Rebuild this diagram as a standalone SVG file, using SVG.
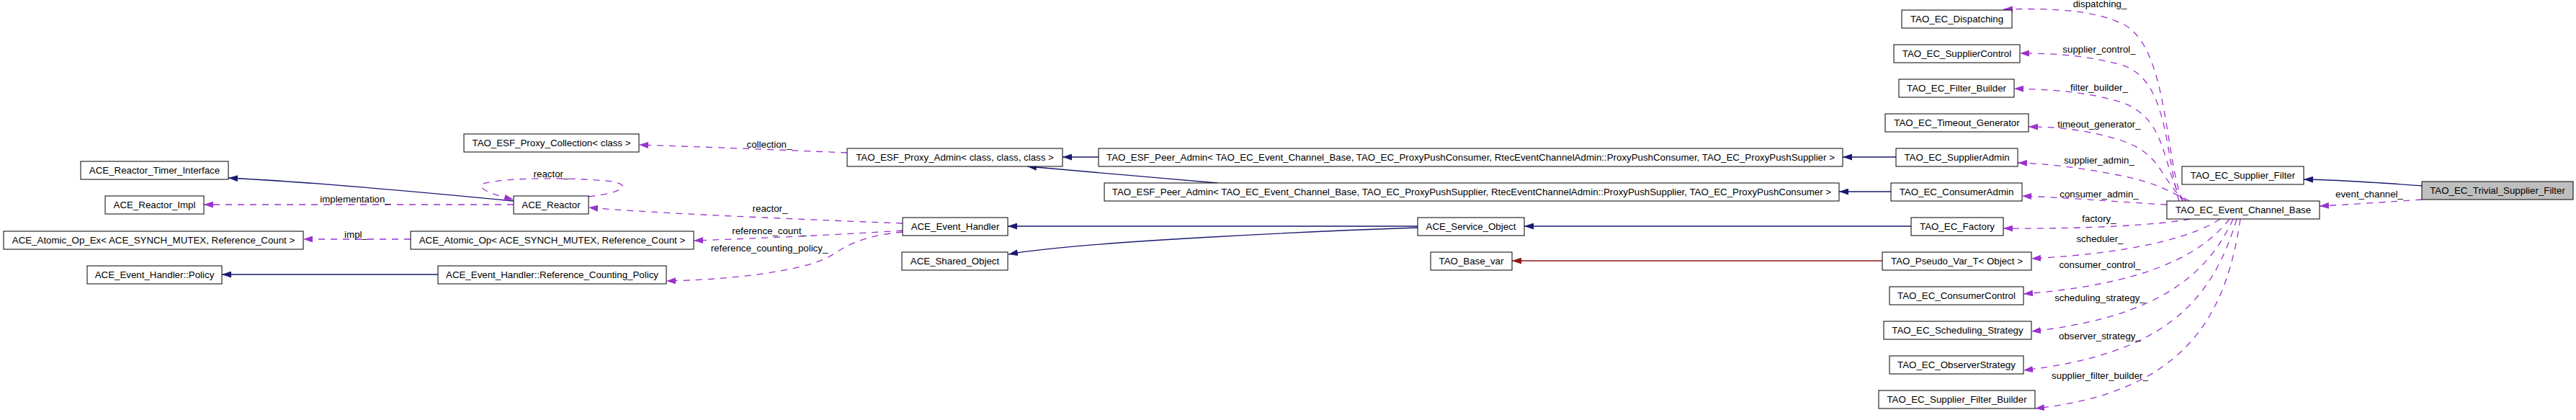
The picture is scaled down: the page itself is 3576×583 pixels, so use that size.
<svg xmlns="http://www.w3.org/2000/svg" width="3576" height="583" viewBox="0 0 3576 583">
<style>
.nb{fill:#ffffff;stroke:#000000;stroke-width:1}
.nt{font-family:"Liberation Sans",Arial,sans-serif;font-size:13.3px;fill:#000000;text-anchor:middle}
.lt{font-family:"Liberation Sans",Arial,sans-serif;font-size:13.3px;fill:#000000;text-anchor:middle}
.inh{fill:none;stroke:#191970;stroke-width:1.3;marker-end:url(#aBlue)}
.tpl{fill:none;stroke:#8b1a1a;stroke-width:1.3;marker-end:url(#aRed)}
.use{fill:none;stroke:#9a32cd;stroke-width:1.3;stroke-dasharray:9,8;marker-end:url(#aPurple)}
</style>
<defs>
<marker id="aBlue" markerUnits="userSpaceOnUse" markerWidth="13" markerHeight="9" viewBox="0 0 13 9" refX="13" refY="4.5" orient="auto"><path d="M0,0 L13,4.5 L0,9 Z" fill="#191970"/></marker>
<marker id="aRed" markerUnits="userSpaceOnUse" markerWidth="13" markerHeight="9" viewBox="0 0 13 9" refX="13" refY="4.5" orient="auto"><path d="M0,0 L13,4.5 L0,9 Z" fill="#8b1a1a"/></marker>
<marker id="aPurple" markerUnits="userSpaceOnUse" markerWidth="13" markerHeight="9" viewBox="0 0 13 9" refX="13" refY="4.5" orient="auto"><path d="M0,0 L13,4.5 L0,9 Z" fill="#9a32cd"/></marker>
</defs>
<rect x="0" y="0" width="3576" height="583" fill="#ffffff"/>
<g id="connectors">
<path class="inh" d="M3362,258 C3320,255 3260,250 3198,249"/>
<path class="inh" d="M2632,218 L2558,218"/>
<path class="inh" d="M2625,266 L2553,266"/>
<path class="inh" d="M2653,314 L2116,314"/>
<path class="tpl" d="M2613,362 L2099,362"/>
<path class="inh" d="M1525,218 L1475,218"/>
<path class="inh" d="M1690,254 C1600,246 1500,238 1426,231"/>
<path class="inh" d="M1968,314 L1399,314"/>
<path class="inh" d="M1968,316 C1850,320 1500,335 1400,353"/>
<path class="inh" d="M608,381 L308,381"/>
<path class="inh" d="M713,279 C600,268 420,252 317,247"/>
<path class="use" d="M3362,277 C3320,280 3260,284 3220,286"/>
<path class="use" d="M3030,279 C3005,220 3010,70 2950,35 C2910,14 2850,11 2781,13"/>
<path class="use" d="M3025,279 C3005,210 3010,110 2945,90 C2900,78 2860,74 2804,74"/>
<path class="use" d="M3030,279 C3000,230 3010,165 2945,142 C2900,128 2850,124 2796,123"/>
<path class="use" d="M3035,279 C3000,255 3005,215 2945,195 C2900,181 2860,176 2816,176"/>
<path class="use" d="M3040,279 C3010,265 2990,252 2940,243 C2890,233 2840,227 2801,226"/>
<path class="use" d="M3008,284 C2950,281 2880,275 2807,272"/>
<path class="use" d="M3040,304 C3000,312 2900,318 2781,317"/>
<path class="use" d="M3082,304 C3040,332 2950,352 2820,359"/>
<path class="use" d="M3095,304 C3050,362 2960,396 2809,408"/>
<path class="use" d="M3100,304 C3060,392 2980,442 2820,460"/>
<path class="use" d="M3105,304 C3070,422 3000,492 2809,514"/>
<path class="use" d="M3110,304 C3090,442 3030,545 2825,567"/>
<path class="use" d="M1176,212 C1080,208 980,204 887,201"/>
<path class="use" d="M817,273 C860,268 880,258 850,252 C800,246 700,246 670,255 C660,262 690,272 713,277"/>
<path class="use" d="M713,284 L283,284"/>
<path class="use" d="M1253,310 C1150,306 900,296 817,288"/>
<path class="use" d="M1253,320 C1150,327 1020,332 963,334"/>
<path class="use" d="M1253,322 C1190,328 1170,345 1150,357 C1110,378 1000,389 925,390"/>
<path class="use" d="M570,332 L421,332"/>
<text class="lt" x="1068" y="205">collection_</text>
<text class="lt" x="765" y="246">reactor_</text>
<text class="lt" x="493" y="281">implementation_</text>
<text class="lt" x="1069" y="294">reactor_</text>
<text class="lt" x="1068" y="325">reference_count_</text>
<text class="lt" x="1068" y="349">reference_counting_policy_</text>
<text class="lt" x="494" y="330">impl_</text>
<text class="lt" x="3289" y="274">event_channel_</text>
<text class="lt" x="2915" y="10">dispatching_</text>
<text class="lt" x="2914" y="73">supplier_control_</text>
<text class="lt" x="2914" y="126">filter_builder_</text>
<text class="lt" x="2914" y="177">timeout_generator_</text>
<text class="lt" x="2914" y="227">supplier_admin_</text>
<text class="lt" x="2914" y="274">consumer_admin_</text>
<text class="lt" x="2914" y="308">factory_</text>
<text class="lt" x="2915" y="336">scheduler_</text>
<text class="lt" x="2915" y="372">consumer_control_</text>
<text class="lt" x="2915" y="418">scheduling_strategy_</text>
<text class="lt" x="2915" y="471">observer_strategy_</text>
<text class="lt" x="2915" y="526">supplier_filter_builder_</text>
</g>
<g id="n_trivial"><rect x="3362" y="252" width="210" height="25" fill="#bfbfbf" stroke="#000000"/><text class="nt" x="3467" y="269">TAO_EC_Trivial_Supplier_Filter</text></g>
<g id="n_sfilter"><rect class="nb" x="3029" y="231" width="169" height="25"/><text class="nt" x="3113.5" y="248">TAO_EC_Supplier_Filter</text></g>
<g id="n_ecb"><rect class="nb" x="3008" y="279" width="212" height="25"/><text class="nt" x="3114" y="296">TAO_EC_Event_Channel_Base</text></g>
<g id="n_dispatching"><rect class="nb" x="2640" y="14" width="153" height="25"/><text class="nt" x="2716.5" y="31">TAO_EC_Dispatching</text></g>
<g id="n_supctrl"><rect class="nb" x="2629" y="62" width="175" height="25"/><text class="nt" x="2716.5" y="79">TAO_EC_SupplierControl</text></g>
<g id="n_filterb"><rect class="nb" x="2636" y="110" width="160" height="25"/><text class="nt" x="2716" y="127">TAO_EC_Filter_Builder</text></g>
<g id="n_timeout"><rect class="nb" x="2617" y="158" width="199" height="25"/><text class="nt" x="2716.5" y="175">TAO_EC_Timeout_Generator</text></g>
<g id="n_supadmin"><rect class="nb" x="2632" y="206" width="169" height="25"/><text class="nt" x="2716.5" y="223">TAO_EC_SupplierAdmin</text></g>
<g id="n_conadmin"><rect class="nb" x="2625" y="254" width="182" height="25"/><text class="nt" x="2716" y="271">TAO_EC_ConsumerAdmin</text></g>
<g id="n_factory"><rect class="nb" x="2653" y="302" width="128" height="25"/><text class="nt" x="2717" y="319">TAO_EC_Factory</text></g>
<g id="n_pseudo"><rect class="nb" x="2613" y="350" width="207" height="25"/><text class="nt" x="2716.5" y="367">TAO_Pseudo_Var_T&lt; Object &gt;</text></g>
<g id="n_conctrl"><rect class="nb" x="2623" y="398" width="186" height="25"/><text class="nt" x="2716" y="415">TAO_EC_ConsumerControl</text></g>
<g id="n_sched"><rect class="nb" x="2615" y="446" width="205" height="25"/><text class="nt" x="2717.5" y="463">TAO_EC_Scheduling_Strategy</text></g>
<g id="n_observer"><rect class="nb" x="2623" y="494" width="186" height="25"/><text class="nt" x="2716" y="511">TAO_EC_ObserverStrategy</text></g>
<g id="n_sfb"><rect class="nb" x="2608" y="542" width="217" height="25"/><text class="nt" x="2716.5" y="559">TAO_EC_Supplier_Filter_Builder</text></g>
<g id="n_peer1"><rect class="nb" x="1525" y="206" width="1033" height="25"/><text class="nt" x="2041.5" y="223">TAO_ESF_Peer_Admin&lt; TAO_EC_Event_Channel_Base, TAO_EC_ProxyPushConsumer, RtecEventChannelAdmin::ProxyPushConsumer, TAO_EC_ProxyPushSupplier &gt;</text></g>
<g id="n_peer2"><rect class="nb" x="1533" y="254" width="1020" height="25"/><text class="nt" x="2043" y="271">TAO_ESF_Peer_Admin&lt; TAO_EC_Event_Channel_Base, TAO_EC_ProxyPushSupplier, RtecEventChannelAdmin::ProxyPushSupplier, TAO_EC_ProxyPushConsumer &gt;</text></g>
<g id="n_svcobj"><rect class="nb" x="1968" y="302" width="148" height="25"/><text class="nt" x="2042" y="319">ACE_Service_Object</text></g>
<g id="n_basevar"><rect class="nb" x="1986" y="350" width="113" height="25"/><text class="nt" x="2042.5" y="367">TAO_Base_var</text></g>
<g id="n_proxyadmin"><rect class="nb" x="1176" y="206" width="299" height="25"/><text class="nt" x="1325.5" y="223">TAO_ESF_Proxy_Admin&lt; class, class, class &gt;</text></g>
<g id="n_evh"><rect class="nb" x="1253" y="302" width="146" height="25"/><text class="nt" x="1326" y="319">ACE_Event_Handler</text></g>
<g id="n_shared"><rect class="nb" x="1252" y="350" width="147" height="25"/><text class="nt" x="1325.5" y="367">ACE_Shared_Object</text></g>
<g id="n_proxycoll"><rect class="nb" x="644" y="186" width="243" height="25"/><text class="nt" x="765.5" y="203">TAO_ESF_Proxy_Collection&lt; class &gt;</text></g>
<g id="n_reactor"><rect class="nb" x="713" y="272" width="104" height="25"/><text class="nt" x="765" y="289">ACE_Reactor</text></g>
<g id="n_atomic"><rect class="nb" x="570" y="321" width="393" height="25"/><text class="nt" x="766.5" y="338">ACE_Atomic_Op&lt; ACE_SYNCH_MUTEX, Reference_Count &gt;</text></g>
<g id="n_rcpolicy"><rect class="nb" x="608" y="369" width="317" height="25"/><text class="nt" x="766.5" y="386">ACE_Event_Handler::Reference_Counting_Policy</text></g>
<g id="n_timer"><rect class="nb" x="112" y="224" width="205" height="25"/><text class="nt" x="214.5" y="241">ACE_Reactor_Timer_Interface</text></g>
<g id="n_rimpl"><rect class="nb" x="146" y="272" width="137" height="25"/><text class="nt" x="214.5" y="289">ACE_Reactor_Impl</text></g>
<g id="n_atomicex"><rect class="nb" x="5" y="321" width="416" height="25"/><text class="nt" x="213" y="338">ACE_Atomic_Op_Ex&lt; ACE_SYNCH_MUTEX, Reference_Count &gt;</text></g>
<g id="n_policy"><rect class="nb" x="121" y="369" width="187" height="25"/><text class="nt" x="214.5" y="386">ACE_Event_Handler::Policy</text></g>
</svg>
